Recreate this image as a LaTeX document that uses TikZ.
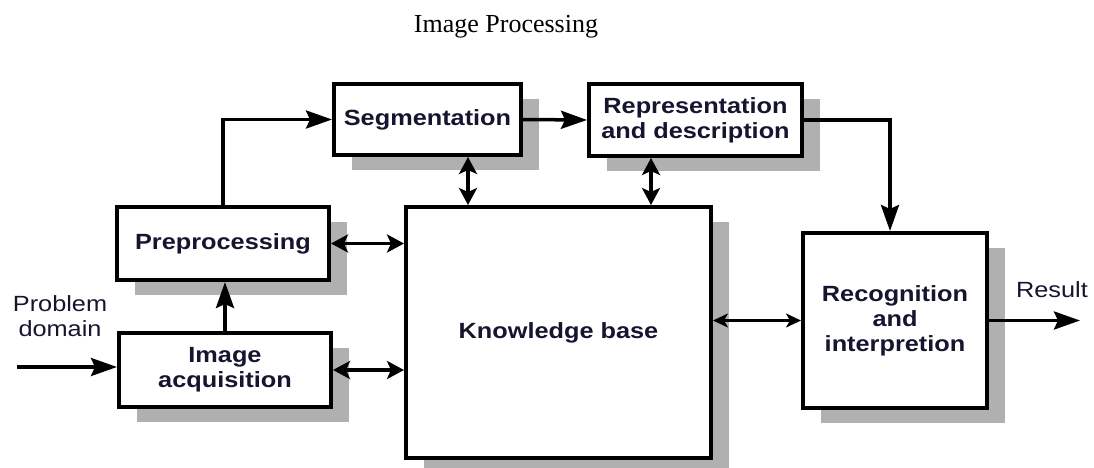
\documentclass[tikz,border=0pt]{standalone}
\usepackage{fontspec}
\setmainfont{Liberation Sans}[FakeStretch=1.15]
\newfontfamily\titlefont{Liberation Serif}
\usetikzlibrary{arrows.meta,shadows,calc}
\definecolor{shadowgray}{HTML}{B0B0B0}
\definecolor{txt}{HTML}{151530}
\tikzset{
  blk/.style={draw=black, line width=4pt, fill=white, rectangle, inner sep=0pt,
    align=center, text=txt, font=\fontsize{22}{25}\selectfont\bfseries,
    drop shadow={shadow xshift=18pt, shadow yshift=-15pt, fill=shadowgray, opacity=1}},
  conn/.style={line width=3.5pt},
  onetip/.style={-{Stealth[length=26pt,width=18pt,inset=4pt]}},
  twotip/.style={{Stealth[length=17pt,width=18pt,inset=4pt]}-{Stealth[length=17pt,width=18pt,inset=4pt]}},
  thintip/.style={{Stealth[length=15pt,width=14pt,inset=4pt]}-{Stealth[length=15pt,width=14pt,inset=4pt]}},
  lbl/.style={align=center, text=txt, font=\fontsize{22}{25}\selectfont, inner sep=0pt}
}
\begin{document}
\begin{tikzpicture}[x=1pt,y=-1pt]
\useasboundingbox (0,0) rectangle (1094,468);
\node[anchor=base, font=\titlefont\fontsize{26}{28}\selectfont, inner sep=0pt] (title) at (506,33) {Image Processing};

\node[blk, minimum width=187pt, minimum height=71pt] (seg) at (427.5,119.5) {Segmentation};
\node[blk, minimum width=213pt, minimum height=72pt] (rep) at (695.5,120) {Representation\\and description};
\node[blk, minimum width=212pt, minimum height=73pt] (pre) at (223,243.5) {Preprocessing};
\node[blk, minimum width=212pt, minimum height=74pt] (acq) at (225,370) {Image\\acquisition};
\node[blk, minimum width=305pt, minimum height=251pt] (kb) at (558.5,332.5) {Knowledge base};
\node[blk, minimum width=184pt, minimum height=175pt] (rec) at (895,320.5) {Recognition\\and\\interpretion};

\node[lbl] (pdl) at (60,316) {Problem\\domain};
\node[lbl] (resl) at (1052,290) {Result};

\coordinate (pd) at (17,367);
\coordinate (res) at (1080,320.5);

\draw[conn, onetip] (pd) -- (pd -| acq.west);
\draw[conn, onetip] (acq.north) -- (acq.north |- pre.south);
\draw[conn, onetip] (pre.north) |- (seg.west);
\draw[conn, onetip] (seg.east) -- (rep.west);
\draw[conn, onetip] (rep.east) -| ([xshift=-5pt]rec.north);
\draw[conn, twotip] ([xshift=40.5pt]seg.south) -- ([xshift=40.5pt]seg.south |- kb.north);
\draw[conn, twotip] ([xshift=-44.5pt]rep.south) -- ([xshift=-44.5pt]rep.south |- kb.north);
\draw[conn, twotip] (pre.east) -- (pre.east -| kb.west);
\draw[conn, twotip] (acq.east) -- (acq.east -| kb.west);
\draw[line width=2.2pt, thintip] (rec.west -| kb.east) -- (rec.west);
\draw[conn, onetip] (rec.east) -- (res);
\end{tikzpicture}
\end{document}
